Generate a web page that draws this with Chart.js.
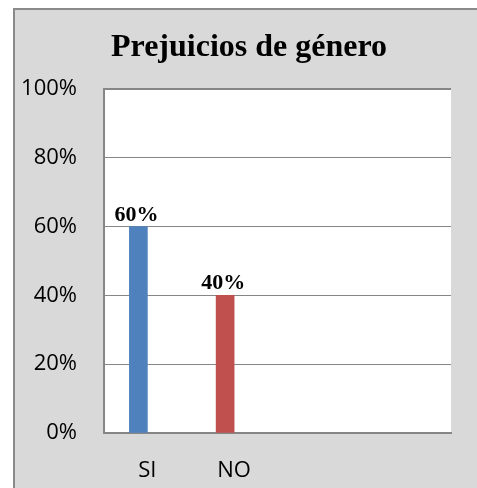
<!DOCTYPE html>
<html>
<head>
<meta charset="utf-8">
<script src="https://cdn.jsdelivr.net/npm/chart.js@4"></script>
<style>
  html, body { margin: 0; background: #fff; overflow: hidden; width: 477px; height: 488px; }
  #box {
    position: absolute; left: 13px; top: 8px; width: 600px; height: 600px;
    background: #d9d9d9; border-left: 2px solid #8a8a8a; border-top: 2px solid #8a8a8a;
  }
  #chart { position: absolute; left: 0; top: 0; }
</style>
</head>
<body>
<div id="box"></div>
<canvas id="chart" width="477" height="488"></canvas>
<script>
const categories = ["SI", "NO", "", ""];
const values = [60, 40, null, null];
const barColors = ["#4f81bd", "#c0504d", "#4f81bd", "#4f81bd"];
const emptySeries = [null, null, null, null];
const titleText = "Prejuicios de género";

// white plot area
const plotBg = {
  id: "plotBg",
  beforeDraw(chart) {
    const a = chart.chartArea;
    const ctx = chart.ctx;
    ctx.save();
    ctx.fillStyle = "#ffffff";
    ctx.fillRect(a.left, a.top, a.right - a.left, a.bottom - a.top);
    ctx.restore();
  }
};

// title sits centred over the box, not over the canvas
const chartTitle = {
  id: "chartTitle",
  afterDraw(chart) {
    const ctx = chart.ctx;
    ctx.save();
    ctx.font = "bold 32px 'Liberation Serif'";
    ctx.fillStyle = "#000";
    ctx.textAlign = "center";
    ctx.textBaseline = "middle";
    ctx.fillText(titleText, 249, 48);
    ctx.restore();
  }
};

// value labels above bars
const barLabels = {
  id: "barLabels",
  afterDatasetsDraw(chart) {
    const ctx = chart.ctx;
    const meta = chart.getDatasetMeta(0);
    ctx.save();
    ctx.font = "bold 22px 'Liberation Serif'";
    ctx.fillStyle = "#000";
    ctx.textAlign = "center";
    ctx.textBaseline = "alphabetic";
    meta.data.forEach((bar, i) => {
      if (values[i] == null) return;
      ctx.fillText(values[i] + "%", bar.x - 2, bar.y - 6);
    });
    ctx.restore();
  }
};

new Chart(document.getElementById("chart"), {
  type: "bar",
  data: {
    labels: categories,
    datasets: [
      { data: values, backgroundColor: barColors, barThickness: 18 },
      { data: emptySeries, backgroundColor: "#c0504d", barThickness: 18 }
    ]
  },
  options: {
    responsive: false,
    animation: false,
    layout: { padding: { left: 14, right: 26, top: 89, bottom: 0 } },
    plugins: {
      legend: { display: false },
      tooltip: { enabled: false },
      title: { display: false }
    },
    scales: {
      x: {
        grid: { display: false, drawTicks: false },
        border: { color: "#868686", width: 2 },
        ticks: { color: "#000", font: { family: "Open Sans", size: 22 }, padding: 25 },
        afterFit(scale) { scale.height = 55; }
      },
      y: {
        min: 0,
        max: 100,
        grid: {
          color: "#868686",
          lineWidth: ctx => (ctx.tick && ctx.tick.value === 100 ? 2 : 1),
          drawTicks: false
        },
        border: { color: "#868686", width: 2 },
        ticks: {
          stepSize: 20,
          color: "#000",
          font: { family: "Open Sans", size: 22 },
          padding: 27,
          callback: v => v + "%"
        },
        afterFit(scale) { scale.width = 90; }
      }
    }
  },
  plugins: [plotBg, chartTitle, barLabels]
});
</script>
</body>
</html>
